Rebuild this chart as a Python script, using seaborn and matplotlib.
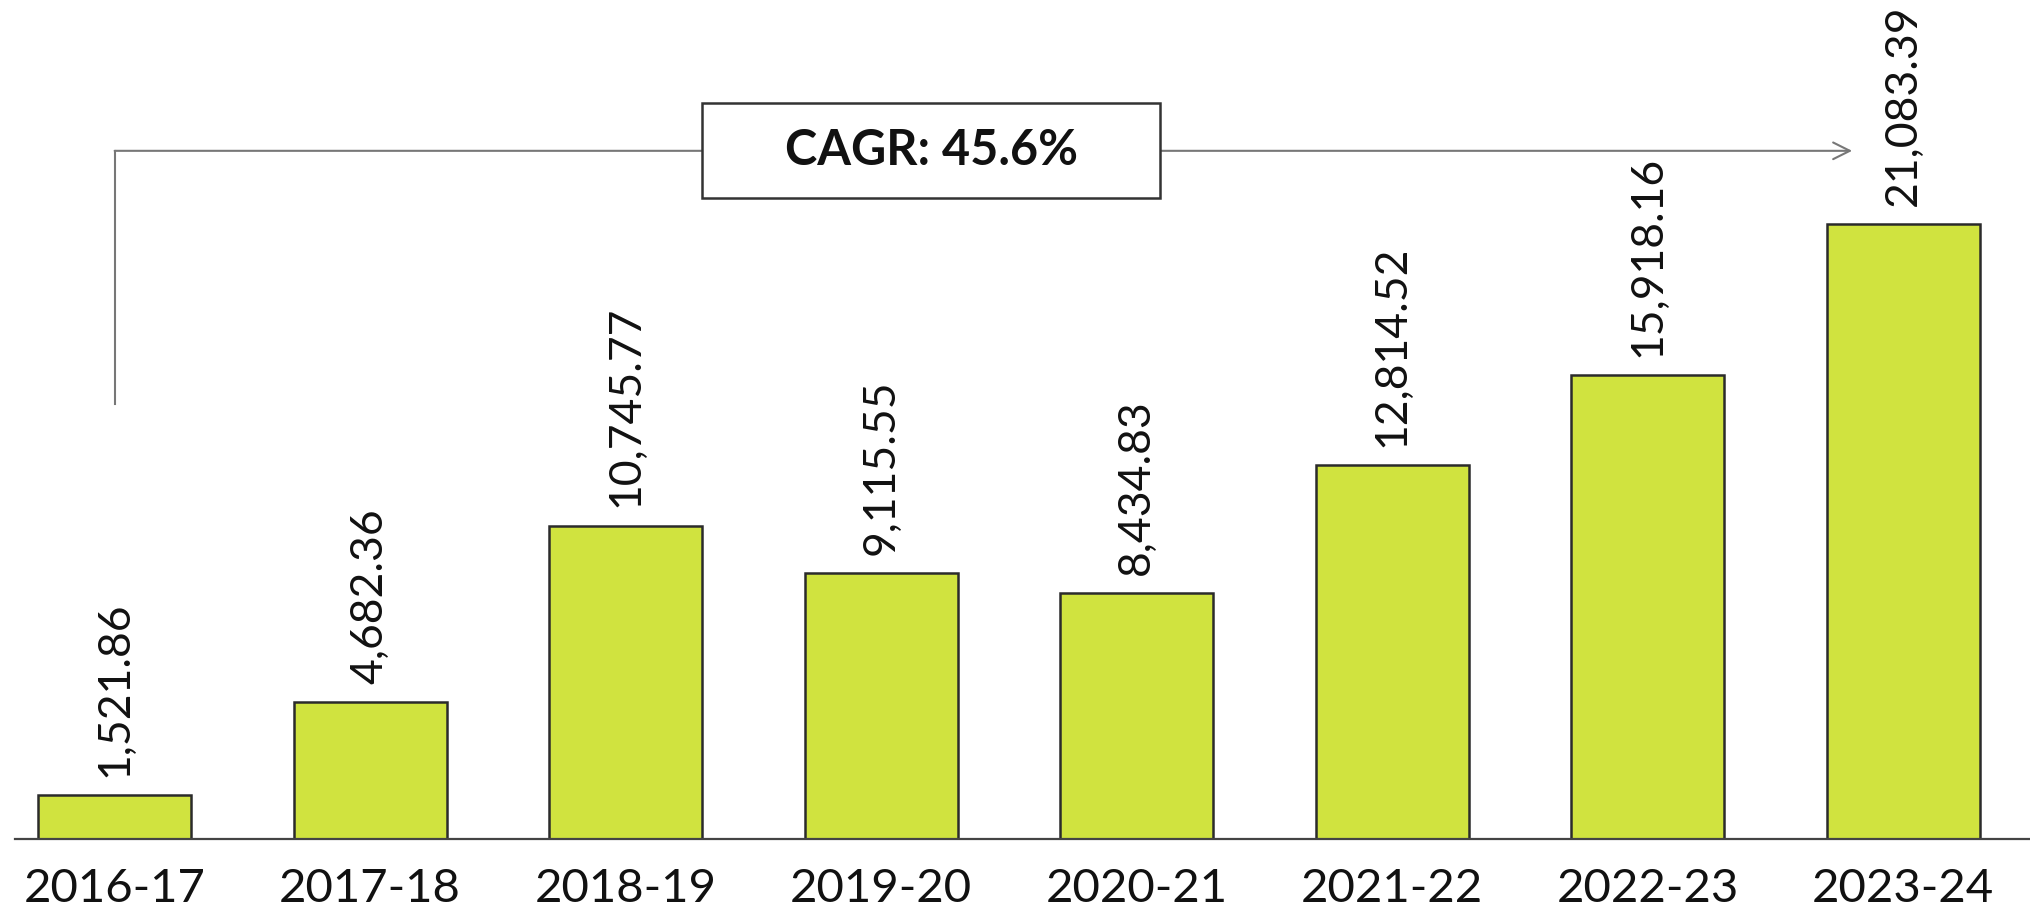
import matplotlib
matplotlib.use("Agg")
import matplotlib.pyplot as plt
import matplotlib.patches as mpatches
import seaborn as sns
import pandas as pd

# data
years = ["2016-17", "2017-18", "2018-19", "2019-20", "2020-21", "2021-22", "2022-23", "2023-24"]
values = [1521.86, 4682.36, 10745.77, 9115.55, 8434.83, 12814.52, 15918.16, 21083.39]
cagr_text = "CAGR: 45.6%"

bar_color = "#D0E33F"
edge_color = "#2b2b2b"

sns.set_theme(style="white")
plt.rcParams["font.family"] = ["Lato", "DejaVu Sans"]

df = pd.DataFrame({"year": years, "value": values})

fig = plt.figure(figsize=(20.31, 9.15), dpi=100)
ax = fig.add_axes([15 / 2031, 76 / 915, 1 - 15 / 2031, 839 / 915])

sns.barplot(data=df, x="year", y="value", color=bar_color, saturation=1,
            edgecolor=edge_color, linewidth=1.8, width=0.6, ax=ax)

# value labels above bars
ax.bar_label(ax.containers[0], labels=[f"{v:,.2f}" for v in values],
             rotation=90, padding=13, fontsize=32, color="#111111")

ax.set_xlim(-0.39, 7.5)
ax.set_ylim(0, 28760)
ax.set_xlabel("")
ax.set_ylabel("")
ax.set_yticks([])
ax.tick_params(axis="x", length=0, pad=21, labelsize=34, labelcolor="#111111")
for side in ["top", "right", "left"]:
    ax.spines[side].set_visible(False)
ax.spines["bottom"].set_color("#444444")
ax.spines["bottom"].set_linewidth(1.6)

# CAGR bracket: vertical line from first bar, horizontal arrow to last bar
line_y = 23590
ax.plot([0, 0], [14910, line_y], color="#777777", lw=1.5, solid_capstyle="projecting")
ax.annotate("", xy=(6.8, line_y), xytext=(0, line_y),
            arrowprops=dict(arrowstyle="->", color="#777777", lw=1.5,
                            mutation_scale=30, shrinkA=0, shrinkB=0))

box_x0, box_x1 = 2.298, 4.092
box_y0, box_y1 = 21975, 25231
box = mpatches.Rectangle((box_x0, box_y0), box_x1 - box_x0, box_y1 - box_y0,
                         facecolor="white", edgecolor="#333333", lw=1.8, zorder=5)
ax.add_patch(box)
ax.text((box_x0 + box_x1) / 2, (box_y0 + box_y1) / 2, cagr_text, ha="center", va="center",
        fontsize=35, fontweight="bold", color="#111111", zorder=6)

fig.savefig("out.png", dpi=100)
